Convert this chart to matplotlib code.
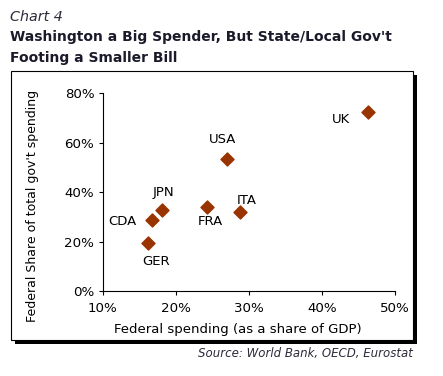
import matplotlib

matplotlib.use("Agg")
import matplotlib.pyplot as plt
from matplotlib.patches import Rectangle
from matplotlib.ticker import FuncFormatter

W, H = 443, 376

countries = ["UK", "USA", "FRA", "ITA", "JPN", "CDA", "GER"]
fed_gdp = [46.3, 27.0, 24.3, 28.8, 18.1, 16.7, 16.25]
fed_share = [72.3, 53.4, 34.1, 31.9, 32.8, 28.6, 19.3]
x_ticks = [10, 20, 30, 40, 50]
y_ticks = [0, 20, 40, 60, 80]

# label offsets in points (dx, dy, ha)
label_pos = {
    "UK": (-12.5, -5, "right"),
    "USA": (-2.7, 14.4, "center"),
    "FRA": (2.4, -10.3, "center"),
    "ITA": (4.8, 8.4, "center"),
    "JPN": (1.5, 12.5, "center"),
    "CDA": (-21, -0.5, "center"),
    "GER": (5.3, -13.2, "center"),
}

plt.rcParams["font.family"] = ["DejaVu Sans"]
fig = plt.figure(figsize=(W / 100, H / 100), dpi=100)


def px(x, y):
    return x / W, 1 - y / H


# frame with shadow
fig.patches.append(Rectangle(px(15, 344), (413 - 11) / W, (340 - 71) / H,
                             transform=fig.transFigure, facecolor="black",
                             edgecolor="none", zorder=0))
fig.patches.append(Rectangle(px(11, 340), (413 - 11) / W, (340 - 71) / H,
                             transform=fig.transFigure, facecolor="white",
                             edgecolor="black", linewidth=0.8, zorder=1))

x0, y0 = px(102.7, 291)
x1, y1 = px(394.7, 93.3)
ax = fig.add_axes([x0, y0, x1 - x0, y1 - y0], zorder=2)
ax.patch.set_visible(False)
ax.set_xlim(10, 50)
ax.set_ylim(0, 80)
ax.set_xticks(x_ticks)
ax.set_yticks(y_ticks)
pct = FuncFormatter(lambda v, p: f"{v:.0f}%")
ax.xaxis.set_major_formatter(pct)
ax.yaxis.set_major_formatter(pct)
for s in ["top", "right"]:
    ax.spines[s].set_visible(False)
for s in ["left", "bottom"]:
    ax.spines[s].set_linewidth(0.8)
ax.tick_params(axis="both", length=3, width=0.8, labelsize=9.6, colors="black", pad=3)
ax.tick_params(axis="x", pad=5)

ax.scatter(fed_gdp, fed_share, marker="D", s=44, color="#993300", zorder=3,
           clip_on=False)
for c, x, y in zip(countries, fed_gdp, fed_share):
    dx, dy, ha = label_pos[c]
    ax.annotate(c, (x, y), xytext=(dx, dy), textcoords="offset points",
                ha=ha, va="center", fontsize=9.5, color="black")

fig.text(*px(237.7, 329), "Federal spending (as a share of GDP)", ha="center",
         va="center", fontsize=9.5)
fig.text(*px(33, 206), "Federal Share of total gov't spending", rotation=90,
         ha="center", va="center", fontsize=9)

fig.text(*px(10, 17), "Chart 4", ha="left", va="center", fontsize=10.3,
         style="italic", color="#2b2b3a")
fig.text(*px(10, 37), "Washington a Big Spender, But State/Local Gov't",
         ha="left", va="center", fontsize=10, fontweight="bold", color="#1a1a2a")
fig.text(*px(10, 58), "Footing a Smaller Bill", ha="left", va="center",
         fontsize=10, fontweight="bold", color="#1a1a2a")
fig.text(*px(413, 353), "Source: World Bank, OECD, Eurostat", ha="right",
         va="center", fontsize=8.5, style="italic", color="#2b2b3a")

fig.savefig("out.png", dpi=100)
